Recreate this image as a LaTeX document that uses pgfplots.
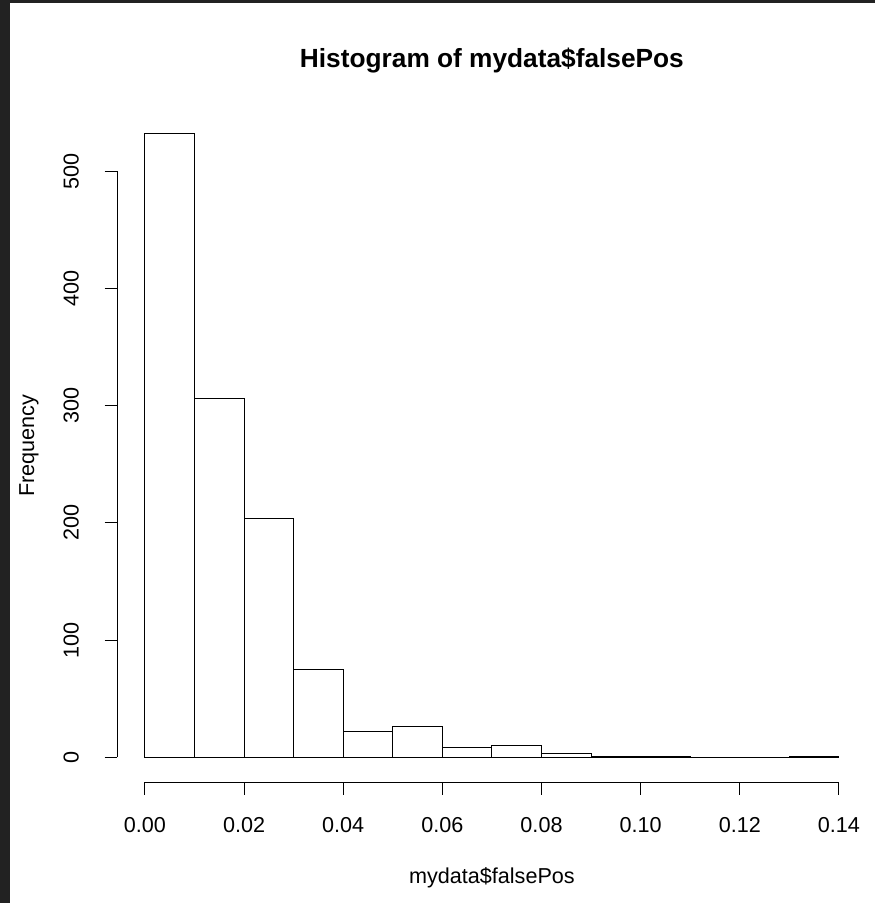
\documentclass[border=0pt]{standalone}
\usepackage{fontspec}
\setmainfont{Liberation Sans}
\usepackage{pgfplots}
\pgfplotsset{compat=1.18}
\definecolor{frame}{HTML}{222222}
\begin{document}
\begin{tikzpicture}
\fill[white] (0pt,0pt) rectangle (656.25pt,-677.25pt);
\fill[frame] (0pt,0pt) rectangle (7.8pt,-677.25pt);
\fill[frame] (0pt,0pt) rectangle (656.25pt,-2.25pt);
\begin{axis}[
  at={(87.9pt,-586.65pt)}, anchor=south west,
  scale only axis, width=562.1pt, height=505.05pt,
  xmin=-0.0056, xmax=0.1456, ymin=-21.28, ymax=553.28,
  clip=false,
  axis x line=bottom, axis y line=left,
  axis line style={draw=none,-},
  tick align=outside, major tick length=9.4pt,
  tick style={black, line width=0.8pt},
  minor tick num=0,
  scaled x ticks=false, scaled y ticks=false,
  xtick={0,0.02,0.04,0.06,0.08,0.1,0.12,0.14},
  ytick={0,100,200,300,400,500},
  /pgf/number format/assume math mode=true,
  xticklabel style={anchor=base, font=\fontsize{16.2}{19}\selectfont,
    /pgf/number format/fixed, /pgf/number format/fixed zerofill, /pgf/number format/precision=2},
  xticklabel shift=28pt,
  yticklabel style={rotate=90, anchor=base, font=\fontsize{16.2}{19}\selectfont},
  yticklabel shift=19.5pt,
  title={Histogram of mydata\$falsePos},
  title style={at={(axis description cs:0.5,1.05)}, anchor=base, font=\fontsize{19.7}{24}\selectfont\bfseries},
  xlabel={mydata\$falsePos},
  xlabel style={at={(axis description cs:0.5,-0.1497)}, anchor=base, font=\fontsize{16.2}{19}\selectfont},
  ylabel={Frequency},
  ylabel style={at={(axis description cs:-0.111,0.5)}, anchor=base, font=\fontsize{16.2}{19}\selectfont},
]
\addplot[ybar, bar width=0.01, bar shift=0pt, fill=white, draw=black, line width=0.8pt] coordinates {
(0.005,532) (0.015,306) (0.025,204) (0.035,75) (0.045,22) (0.055,26) (0.065,8)
(0.075,10) (0.085,3) (0.095,1) (0.105,1) (0.115,0) (0.125,0) (0.135,1)};
\draw[line width=0.8pt] (axis cs:0,-21.28) -- (axis cs:0.14,-21.28);
\draw[line width=0.8pt] (axis cs:-0.0056,0) -- (axis cs:-0.0056,500);
\end{axis}
\pgfresetboundingbox
\useasboundingbox (0pt,0pt) rectangle (656.25pt,-677.25pt);
\end{tikzpicture}
\end{document}
